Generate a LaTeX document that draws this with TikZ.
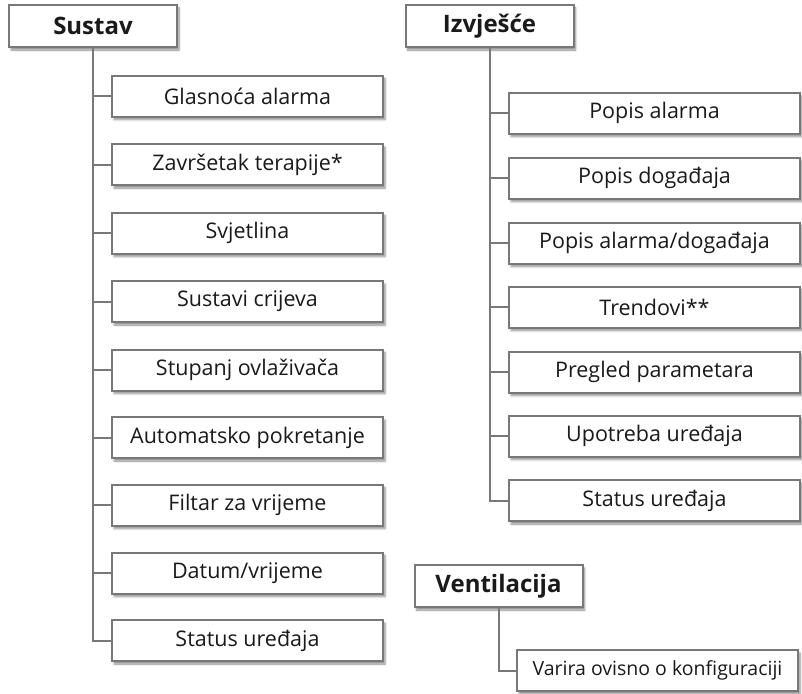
\documentclass[tikz,border=0pt]{standalone}
\usepackage{fontspec}
\setmainfont{Open Sans}
\usetikzlibrary{shadows.blur}
\definecolor{boxgray}{HTML}{787878}
\definecolor{textdark}{HTML}{1A1A1A}
\begin{document}
\begin{tikzpicture}[
    x=1pt, y=-1pt,
    head/.style={rectangle, draw=boxgray, line width=2pt, fill=white, text=textdark,
        minimum width=168pt, minimum height=42pt, inner sep=0pt,
        font=\fontsize{24}{28}\selectfont\bfseries,
        blur shadow={shadow xshift=2pt, shadow yshift=-3pt, shadow blur steps=6, shadow opacity=45}},
    item/.style={rectangle, draw=boxgray, line width=2pt, fill=white, text=textdark,
        minimum width=271pt, minimum height=41pt, inner sep=0pt,
        font=\fontsize{21.5}{25}\selectfont,
        blur shadow={shadow xshift=2pt, shadow yshift=-3pt, shadow blur steps=6, shadow opacity=45}},
    wideitem/.style={item, minimum width=291pt},
    conn/.style={draw=boxgray, line width=2pt}
]
\useasboundingbox (0,0) rectangle (802,693);

% Sustav (left)
\node[head] (sustav) at (93, 26) {Sustav};

\node[item] (glasnoca) at (247.5, 96) {Glasnoća alarma};
\node[item] (zavrsetak) at (247.5, 164.5) {Završetak terapije*};
\node[item] (svjetlina) at (247.5, 233) {Svjetlina};
\node[item] (crijeva) at (247.5, 301.5) {Sustavi crijeva};
\node[item] (ovlazivac) at (247.5, 370) {Stupanj ovlaživača};
\node[item] (autostart) at (247.5, 437.5) {Automatsko pokretanje};
\node[item] (filtar) at (247.5, 505) {Filtar za vrijeme};
\node[item] (datum) at (247.5, 573) {Datum/vrijeme};
\node[item] (statusS) at (247.5, 640.5) {Status uređaja};

\draw[conn] (sustav.south) |- (glasnoca.west);
\draw[conn] (sustav.south) |- (zavrsetak.west);
\draw[conn] (sustav.south) |- (svjetlina.west);
\draw[conn] (sustav.south) |- (crijeva.west);
\draw[conn] (sustav.south) |- (ovlazivac.west);
\draw[conn] (sustav.south) |- (autostart.west);
\draw[conn] (sustav.south) |- (filtar.west);
\draw[conn] (sustav.south) |- (datum.west);
\draw[conn] (sustav.south) |- (statusS.west);

% Izvješće (right)
\node[head] (izvjesce) at (489.5, 26) {Izvješće};

\node[wideitem] (alarmi) at (654.5, 113) {Popis alarma};
\node[wideitem] (dogadaji) at (654.5, 178) {Popis događaja};
\node[wideitem] (alarmidog) at (654.5, 243) {Popis alarma/događaja};
\node[wideitem] (trendovi) at (654.5, 307) {Trendovi**};
\node[wideitem] (parametri) at (654.5, 372) {Pregled parametara};
\node[wideitem] (upotreba) at (654.5, 436) {Upotreba uređaja};
\node[wideitem] (statusI) at (654.5, 500.5) {Status uređaja};

\draw[conn] (izvjesce.south) |- (alarmi.west);
\draw[conn] (izvjesce.south) |- (dogadaji.west);
\draw[conn] (izvjesce.south) |- (alarmidog.west);
\draw[conn] (izvjesce.south) |- (trendovi.west);
\draw[conn] (izvjesce.south) |- (parametri.west);
\draw[conn] (izvjesce.south) |- (upotreba.west);
\draw[conn] (izvjesce.south) |- (statusI.west);

% Ventilacija (bottom right)
\node[head] (ventilacija) at (498.5, 586) {Ventilacija};
\node[item, minimum width=281pt, font=\fontsize{19.5}{23}\selectfont] (konfig) at (657.5, 670.5) {Varira ovisno o konfiguraciji};

\draw[conn] (ventilacija.south) |- (konfig.west);

\end{tikzpicture}
\end{document}
